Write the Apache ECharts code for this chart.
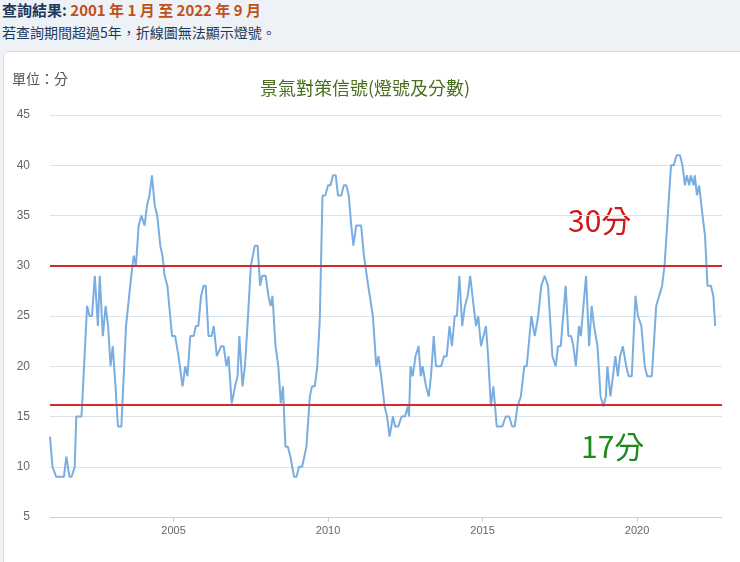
<!DOCTYPE html>
<html><head><meta charset="utf-8">
<script src="https://cdn.jsdelivr.net/npm/echarts@6/dist/echarts.min.js"></script>
<style>
html,body{margin:0;padding:0;width:740px;height:562px;overflow:hidden;background:#eef2f7;font-family:"Noto Sans CJK TC","Noto Sans",sans-serif;}
#h1{position:absolute;left:2px;top:0px;font-size:15px;line-height:19px;font-weight:bold;color:#1e3a5a;}
#h1 span{color:#c0501a;}
#h2{position:absolute;left:2px;top:23px;font-size:14px;line-height:18px;color:#1e3a5a;}
#panel{position:absolute;left:3px;top:51px;width:745px;height:520px;background:#fff;border:1px solid #d5dbe2;border-radius:6px;}
#c{position:absolute;left:0;top:0;width:740px;height:562px;}
</style></head><body>
<div id="h1">查詢結果: <span>2001 年 1 月 至 2022 年 9 月</span></div>
<div id="h2">若查詢期間超過5年，折線圖無法顯示燈號。</div>
<div id="panel"></div>
<div id="c"></div>
<script>
const years = [2001.0,2001.08,2001.13,2001.2,2001.45,2001.53,2001.63,2001.7,2001.8,2001.85,2002.02,2002.2,2002.28,2002.36,2002.45,2002.55,2002.61,2002.71,2002.8,2002.88,2002.96,2003.03,2003.12,2003.2,2003.31,2003.46,2003.63,2003.71,2003.78,2003.87,2003.96,2004.06,2004.14,2004.22,2004.3,2004.39,2004.47,2004.57,2004.64,2004.71,2004.8,2004.95,2005.05,2005.16,2005.29,2005.38,2005.45,2005.54,2005.65,2005.72,2005.8,2005.89,2005.97,2006.04,2006.13,2006.23,2006.3,2006.4,2006.54,2006.62,2006.71,2006.78,2006.88,2006.99,2007.07,2007.13,2007.23,2007.31,2007.4,2007.5,2007.63,2007.72,2007.8,2007.87,2007.98,2008.07,2008.14,2008.2,2008.3,2008.39,2008.47,2008.54,2008.62,2008.7,2008.78,2008.9,2008.98,2009.06,2009.16,2009.3,2009.41,2009.48,2009.57,2009.65,2009.73,2009.82,2009.91,2010.0,2010.08,2010.16,2010.25,2010.32,2010.43,2010.51,2010.59,2010.67,2010.75,2010.82,2010.91,2011.07,2011.16,2011.3,2011.45,2011.56,2011.63,2011.72,2011.83,2011.91,2011.99,2012.1,2012.17,2012.27,2012.38,2012.49,2012.58,2012.62,2012.67,2012.74,2012.83,2012.93,2013.0,2013.06,2013.17,2013.26,2013.33,2013.42,2013.49,2013.66,2013.75,2013.84,2013.93,2014.01,2014.1,2014.17,2014.25,2014.34,2014.43,2014.52,2014.6,2014.71,2014.79,2014.86,2014.95,2015.11,2015.18,2015.27,2015.35,2015.46,2015.64,2015.75,2015.86,2015.96,2016.04,2016.13,2016.24,2016.35,2016.43,2016.58,2016.69,2016.8,2016.9,2017.01,2017.12,2017.26,2017.37,2017.44,2017.53,2017.69,2017.78,2017.87,2017.94,2018.02,2018.12,2018.18,2018.35,2018.45,2018.53,2018.61,2018.72,2018.82,2018.91,2018.99,2019.04,2019.14,2019.22,2019.3,2019.38,2019.45,2019.54,2019.65,2019.73,2019.83,2019.95,2020.03,2020.14,2020.25,2020.33,2020.48,2020.62,2020.81,2020.89,2021.1,2021.19,2021.28,2021.39,2021.47,2021.55,2021.61,2021.69,2021.74,2021.83,2021.87,2021.94,2022.01,2022.12,2022.2,2022.28,2022.39,2022.47,2022.53];
const scores = [13,10,10,9,9,11,9,9,10,15,15,26,25,25,29,24,29,23,26,24,20,22,18,14,14,24,29,31,30,34,35,34,36,37,39,36,35,32,31,29,28,23,23,21,18,20,19,23,23,24,24,27,28,28,23,23,24,21,22,22,20,21,16.3,18,19,23,18,20,24.5,30,32,32,28,29,29,27,26,27,22,20,16.3,18,12,12,11,9,9,10,10,12,17,18,18,20,24.5,37,37,38,38,39,39,37,37,38,38,37,34,32,34,34,31,28,25,20,21,19,16,15,13,15,14,14,15,15,16,15,20,19,21,22,19,20,18,17,19,23,20,20,21,21,24,22,25,25,29,24,26,27,29,26,24,25,22,24,21,16,18,14,14,15,15,14,14,16,17,20,20,25,23,25,28,29,28,21,20,22,22,28,23,23,22,20,24,23,29,22,26,24,22,17,16,17,20,17,19,21,19,21,22,20,19,19,27,25,24,20,19,19,26,28,30,40,40,41,41,40,38,39,38,39,38,39,37,38,35,33,28,28,27,24];
const xTickYears = [2005,2010,2015,2020];
const upper = 30, lower = 16.2;
const yTicks = {min:5,max:45,interval:5};
const data = years.map((y,i)=>[y,scores[i]]);
const chart = echarts.init(document.getElementById('c'),null,{renderer:'canvas'});
chart.setOption({
  backgroundColor:'transparent',
  animation:false,
  title:{text:'景氣對策信號(燈號及分數)',left:255,top:74,textStyle:{color:'#4a6e1c',fontSize:18,fontWeight:'normal',fontFamily:'Noto Sans CJK TC'}},
  graphic:[
    {type:'text',left:12,top:72,style:{text:'單位：分',fill:'#555',font:'14px "Noto Sans CJK TC"'}},
    {type:'text',left:568,top:206,style:{text:'30分',fill:'#d01818',font:'30px "Noto Sans CJK TC"'}},
    {type:'text',left:581,top:432,style:{text:'17分',fill:'#1c8a1c',font:'30px "Noto Sans CJK TC"'}}
  ],
  grid:{left:50,right:18,top:115,bottom:45},
  xAxis:{type:'value',min:2001,max:2022.75,
    axisLine:{lineStyle:{color:'#c8d0da'}},
    axisTick:{show:true,customValues:xTickYears,lineStyle:{color:'#c8d0da'}},
    splitLine:{show:false},
    axisLabel:{color:'#666',fontSize:11,customValues:xTickYears,formatter:v=>String(Math.round(v))}
  },
  yAxis:{type:'value',min:yTicks.min,max:yTicks.max,interval:yTicks.interval,
    axisLine:{show:false},axisTick:{show:false},
    axisLabel:{color:'#666',fontSize:12,margin:20},
    splitLine:{lineStyle:{color:'#dde2e8'}}},
  series:[{type:'line',data:data,showSymbol:false,lineStyle:{color:'#7aaee0',width:2},
    markLine:{silent:true,symbol:['none','none'],label:{show:false},
      lineStyle:{color:'#d42a2a',width:2,type:'solid'},
      data:[{yAxis:upper},{yAxis:lower}]}}]
});
</script></body></html>
